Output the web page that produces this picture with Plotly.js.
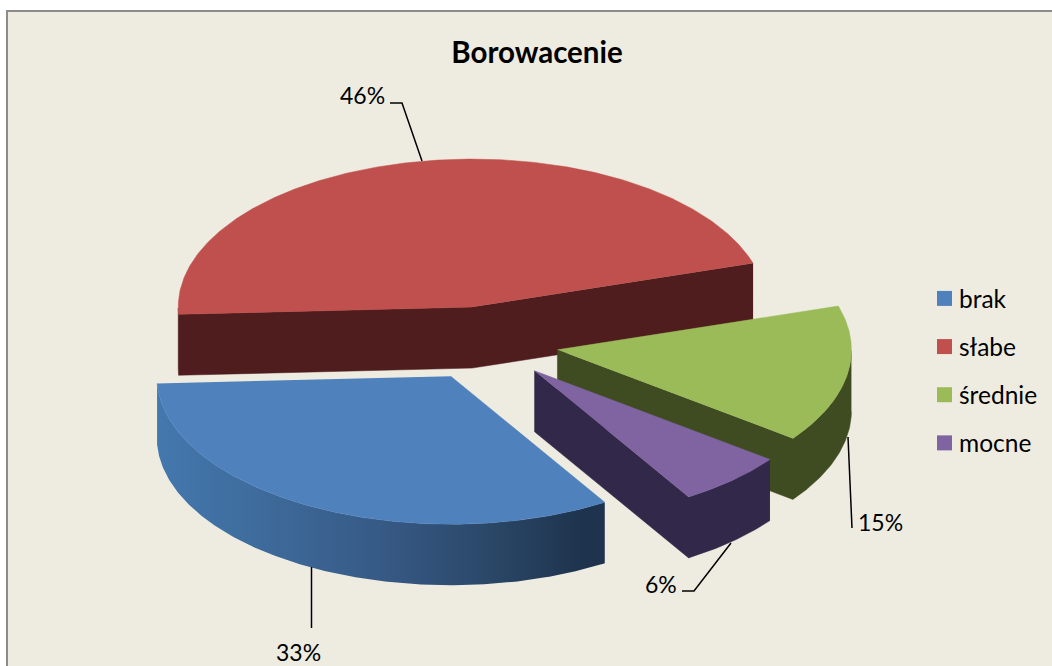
<!DOCTYPE html>
<html><head><meta charset="utf-8">
<script src="https://cdn.plot.ly/plotly-3.0.1.min.js"></script>
<style>html,body{margin:0;padding:0;background:#fff}#chart{width:1052px;height:666px}</style>
</head><body><div id="chart"></div>
<script>
// ---- data ----
const categories = ['brak', 'słabe', 'średnie', 'mocne'];
const shares = [33, 46, 15, 6];
const chartTitle = 'Borowacenie';

// ---- styles ----
const topColors = ['#4F81BD', '#C0504D', '#9BBB59', '#8064A2'];
const sideColors = ['#3A6290', '#4F1D1D', '#3F4B21', '#32284A'];
const blueGradient = [[0, '#4478AE'], [0.25, '#3D6A9A'], [0.5, '#375A86'], [0.75, '#2A4767'], [0.95, '#1E344E'], [1, '#1E344E']];
const drawOrder = [1, 2, 3, 0];

// ---- projection of the tilted pie into the plot's pixel-sized axes ----
const hub = [485, 343.5], rx = 294, ry = 148, depth = 61, pull = 0.25, firstAngle = -58.4;
const leaderPaths = [
  [[311.5, 567], [311.5, 628]],
  [[390, 103], [402, 103], [422, 161]],
  [[848, 437], [852, 528]],
  [[731, 543], [694, 591], [682, 591]]
];
const labelAnchors = [
  {x: 298, y: 652, xanchor: 'center'},
  {x: 387, y: 95, xanchor: 'right'},
  {x: 856, y: 522, xanchor: 'left'},
  {x: 679, y: 584, xanchor: 'right'}
];

const rad = d => d * Math.PI / 180;
const total = shares.reduce((a, b) => a + b, 0);
const slices = [];
let cursor = firstAngle;
shares.forEach((v, i) => {
  const a0 = cursor, a1 = cursor - v / total * 360, mid = (a0 + a1) / 2;
  cursor = a1;
  slices[i] = {a0, a1, c: [hub[0] + pull * rx * Math.cos(rad(mid)), hub[1] - pull * ry * Math.sin(rad(mid))]};
});
const rim = (s, a) => [s.c[0] + rx * Math.cos(rad(a)), s.c[1] - ry * Math.sin(rad(a))];
const poly = (pts, extra) => Object.assign({
  type: 'scatter', mode: 'lines', x: pts.map(p => p[0]), y: pts.map(p => p[1]),
  fill: 'toself', line: {width: 0}, hoverinfo: 'skip', showlegend: false
}, extra);
const down = pts => pts.slice().reverse().map(p => [p[0], p[1] + depth]);

const traces = [];
drawOrder.forEach(i => {
  const s = slices[i];
  const vis0 = Math.cos(rad(s.a0)) < 0, vis1 = Math.cos(rad(s.a1)) > 0;
  // front half of the outer arc
  const arc = [];
  for (let a = s.a0; a > s.a1; a -= 0.5) {
    const n = ((a % 360) + 360) % 360;
    if (n >= 180) arc.push(rim(s, a));
  }
  const endN = ((s.a1 % 360) + 360) % 360;
  if (endN >= 180) arc.push(rim(s, s.a1));
  // one continuous chain of front-facing edges, extruded downward
  let chain;
  if (vis0 && vis1) chain = [rim(s, s.a1), s.c].concat(arc);
  else if (vis1) chain = arc.concat([s.c]);
  else chain = arc;
  const style = i === 0
    ? {fillgradient: {type: 'horizontal', start: 156, stop: 603, colorscale: blueGradient}}
    : {fillcolor: sideColors[i], line: {width: 0.5, color: sideColors[i]}};
  traces.push(poly(chain.concat(down(chain)), style));
  // top surface
  const top = [s.c];
  for (let a = s.a0; a > s.a1; a -= 0.5) top.push(rim(s, a));
  top.push(rim(s, s.a1));
  traces.push(poly(top, {fillcolor: topColors[i], line: {width: 0.5, color: topColors[i]}}));
});

// legend entries
categories.forEach((name, i) => traces.push({
  type: 'scatter', mode: 'markers', x: [null], y: [null], name,
  legendgroup: name, marker: {symbol: 'square', size: 15, color: topColors[i]}, hoverinfo: 'skip'
}));

const layout = {
  width: 1052, height: 666, margin: {l: 0, r: 0, t: 0, b: 0},
  paper_bgcolor: '#FFFFFF', plot_bgcolor: 'rgba(0,0,0,0)',
  xaxis: {range: [0, 1052], visible: false, fixedrange: true},
  yaxis: {range: [666, 0], visible: false, fixedrange: true},
  font: {family: 'Lato, Carlito, sans-serif', color: '#000'},
  title: {text: '<b>' + chartTitle + '</b>', x: 537 / 1052, xanchor: 'center', y: 1 - 53 / 666, yanchor: 'middle',
          font: {size: 29.5, family: 'Lato, sans-serif', color: '#000'}},
  showlegend: true,
  legend: {x: 925 / 1052, xanchor: 'left', y: 1 - 276 / 666, yanchor: 'top', bgcolor: 'rgba(0,0,0,0)',
           font: {size: 24.5, color: '#000'}, tracegroupgap: 13.3, indentation: -6, itemclick: false, itemdoubleclick: false},
  shapes: [
    {type: 'rect', layer: 'below', xref: 'x', yref: 'y', x0: 7, y0: 11, x1: 1070, y1: 690,
     fillcolor: '#EEECE1', line: {color: '#8C8C8C', width: 2}}
  ].concat(leaderPaths.map(p => ({
    type: 'path', xref: 'x', yref: 'y',
    path: p.map((q, k) => (k ? 'L' : 'M') + q[0] + ' ' + q[1]).join(' '),
    line: {color: '#000', width: 1.5}
  }))),
  annotations: shares.map((v, i) => Object.assign({
    text: v + '%', xref: 'x', yref: 'y', showarrow: false, yanchor: 'middle',
    font: {size: 23, color: '#000'}
  }, labelAnchors[i]))
};
Plotly.newPlot('chart', traces, layout, {staticPlot: true, displayModeBar: false}).then(() => {
  // the reference keeps its swatches closer to the legend text
  document.querySelectorAll('#chart .legendpoints').forEach(g => { g.style.transform = 'translateX(5.5px)'; });
});
</script></body></html>
